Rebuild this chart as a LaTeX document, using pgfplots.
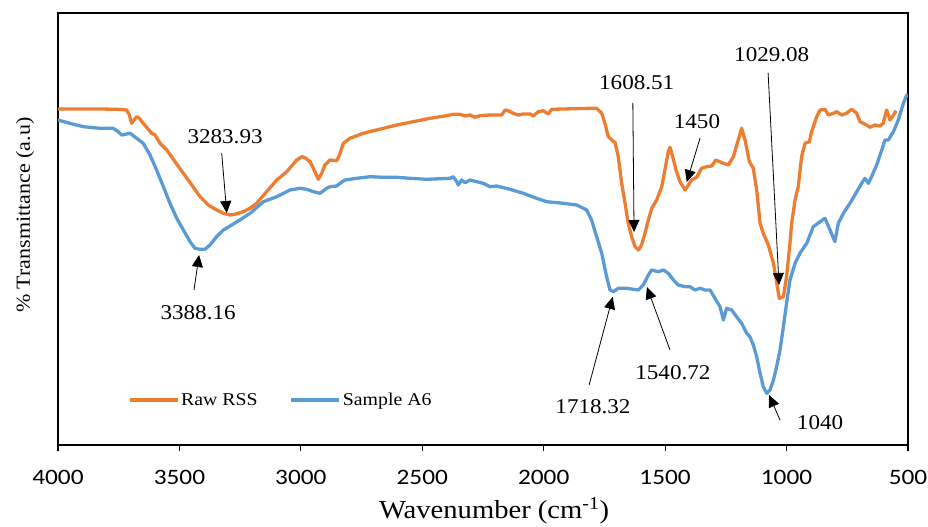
\documentclass[border=0pt]{standalone}
\usepackage{fontspec}
\setmainfont{Liberation Serif}[FakeStretch=1.1]
\newfontfamily\tickfont{Carlito}[FakeStretch=1.15]
\usepackage{pgfplots}
\pgfplotsset{compat=1.18}
\usetikzlibrary{arrows.meta}
\definecolor{rawrss}{HTML}{ED7D31}
\definecolor{samplea}{HTML}{5B9BD5}

% FTIR spectra (transmittance in arbitrary units, wavenumber in cm^-1)
\pgfplotstableread{
w y
4000 336
3896 336
3827 336
3758 335.7
3717 335
3706 330
3697 321.7
3687 325
3676 328.3
3665 326.7
3649 321.7
3628 315.7
3614 311.7
3600 310
3580 301.7
3552 295
3518 283.3
3484 271.7
3449 260
3415 248.3
3381 240
3347 235
3319 231.7
3292 230
3271 230.7
3237 233.3
3209 236.7
3182 241.7
3141 253.3
3099 265
3058 273.3
3017 285
2996 288.3
2983 287.3
2962 283.3
2942 273.3
2928 265.7
2914 271.7
2901 280
2880 285
2852 284.3
2841 290
2825 301.7
2798 306.7
2743 311.7
2660 316.7
2605 320
2537 323.3
2468 326.7
2400 329.3
2372 330.7
2345 330.7
2324 329
2303 330
2283 327.7
2262 329.3
2221 330
2173 330
2159 335
2146 334.3
2125 331.7
2104 330
2084 331
2056 331
2043 329
2022 333.3
2001 334.3
1981 331
1967 335.7
1919 336
1809 336.7
1782 336.7
1761 331.7
1748 321.7
1734 308.3
1720 305
1706 302.3
1693 288.3
1679 261.7
1665 241.7
1652 221.7
1638 208.3
1624 198.3
1610 195
1597 200
1583 211.7
1569 225
1555 236.7
1535 245
1514 258.3
1501 275
1487 293.3
1480 297.7
1469 288.3
1455 275
1439 263.3
1418 255
1404 260
1391 265
1370 267.7
1350 276.7
1329 278.3
1308 279
1291 285
1267 282.3
1240 280
1219 288.3
1199 305
1185 316.7
1171 305
1153 283.3
1137 276.7
1123 255
1109 221.7
1096 211.7
1075 200
1054 181.7
1038 158.3
1030 146.7
1013 148.3
1000 168.3
986 201.7
979 221.7
965 245
952 258.3
938 288.3
924 301.7
906 303.3
897 313.3
876 328.3
862 335
842 335.7
828 330
807 331.7
794 333.3
773 330
753 331.7
732 335.7
711 331.7
698 323.3
670 320
657 317.7
636 320
615 319
602 321.7
588 335
574 325
560 330
549 334.3
}\rawrss

\pgfplotstableread{
w y
4000 325
3951 321.7
3896 318.3
3827 316.7
3772 316.7
3752 313.3
3738 310
3703 311.7
3676 306.7
3649 301.7
3621 290
3594 275
3566 258.3
3539 241.7
3511 226.7
3484 215
3456 203.3
3436 196.7
3415 195.7
3395 195.7
3374 200
3347 208.3
3319 215
3285 220
3251 225
3209 231.7
3154 243.3
3099 248.3
3045 255
3003 256.7
2976 255.7
2949 253.3
2921 251.7
2894 256.7
2880 258.3
2852 259
2839 261.7
2818 265
2770 266.7
2715 268.3
2660 267.7
2605 267.7
2551 266.7
2482 265.7
2386 266.7
2372 268.3
2358 263.3
2352 260
2338 265
2324 262.3
2303 265
2276 263.3
2249 261.7
2221 258.3
2194 259
2139 255.7
2084 251.7
2029 246.7
1988 243.3
1919 241.7
1864 240
1823 235
1803 225
1782 208.3
1761 191.7
1741 168.3
1727 155
1713 153.3
1693 156.7
1658 156.7
1631 155.7
1610 155
1590 160
1569 170
1556 175
1528 173.3
1507 175
1487 171.7
1466 165
1446 160
1418 158.3
1398 158.3
1377 155
1356 156.7
1336 155
1315 155
1295 146.7
1274 138.3
1260 125
1247 136.7
1226 135
1206 128.3
1185 121.7
1164 111.7
1151 108.3
1137 100
1123 88.3
1109 71.7
1096 58.3
1082 51.7
1068 55
1054 65
1041 78.3
1027 95
1013 118.3
1000 141.7
986 165
965 181.7
945 191.7
917 201.7
890 218.3
862 223.3
842 226.7
821 215
801 203.3
787 221.7
766 231.7
739 241.7
711 253.3
691 261.7
677 266.7
663 261.7
650 268.3
629 280
608 295
595 305
581 305
560 313.3
540 325
519 341.7
505 350
500 348
}\sampleA

\newcommand\annfont{\fontsize{21bp}{24bp}\selectfont}

\begin{document}
\begin{tikzpicture}
\path[use as bounding box] (-58bp,-82bp) rectangle (870bp,445bp);
\begin{axis}[
  at={(0bp,0bp)}, anchor=south west,
  scale only axis, width=850bp, height=432bp,
  x dir=reverse,
  xmin=500, xmax=4000, ymin=0, ymax=432,
  xtick={500,1000,...,4000}, ytick=\empty,
  xtick pos=bottom,
  tick align=outside, major tick length=6bp,
  axis line style={line width=1.3bp},
  every tick/.style={black, line width=1.1bp},
  /pgf/number format/assume math mode=true,
  /pgf/number format/set thousands separator={},
  xticklabel style={font=\tickfont\fontsize{22bp}{24bp}\selectfont, yshift=-16bp},
  xlabel={Wavenumber (cm\textsuperscript{-1})},
  ylabel={\% Transmittance (a.u)},
  every axis x label/.style={at={(axis description cs:0.513,0)}, anchor=center, yshift=-66bp, font=\fontsize{26bp}{29bp}\selectfont},
  every axis y label/.style={at={(axis description cs:0,0.532)}, xshift=-33bp, rotate=90, anchor=center, font=\fontsize{20bp}{23bp}\selectfont},
  legend columns=2,
  legend style={at={(axis description cs:0.262,0.104)}, anchor=center, draw=none, fill=none,
    font=\fontsize{18bp}{21bp}\selectfont,
    /tikz/every even column/.style={column sep=30bp}},
  legend image code/.code={\draw[#1, line width=3.3bp] (0bp,0bp) -- (48bp,0bp);},
]
\addplot[rawrss, line width=3.3bp, line join=round] table[x=w, y=y] {\rawrss};
\addlegendentry{Raw RSS}
\addplot[samplea, line width=3.3bp, line join=round] table[x=w, y=y] {\sampleA};
\addlegendentry{Sample A6}

% peak annotations
\tikzset{peak/.style={-{Triangle[width=11bp,length=12bp]}, line width=0.8bp, black}}
\node[font=\annfont] at (axis cs:3312,308) {3283.93};
\draw[peak] (axis cs:3326,292) -- (axis cs:3305,232);
\node[font=\annfont] at (axis cs:3423,132) {3388.16};
\draw[peak] (axis cs:3440,155) -- (axis cs:3419,190);
\node[font=\annfont] at (axis cs:1617,362) {1608.51};
\draw[peak] (axis cs:1633,342) -- (axis cs:1628,213);
\node[font=\annfont] at (axis cs:1369,323) {1450};
\draw[peak] (axis cs:1356,307) -- (axis cs:1411,263);
\node[font=\annfont] at (axis cs:1061,390) {1029.08};
\draw[peak] (axis cs:1076,372) -- (axis cs:1031,160);
\node[font=\annfont] at (axis cs:1797,38) {1718.32};
\draw[peak] (axis cs:1813,60) -- (axis cs:1716,148);
\node[font=\annfont] at (axis cs:1468,72) {1540.72};
\draw[peak] (axis cs:1480,95) -- (axis cs:1575,158);
\node[font=\annfont] at (axis cs:862,22) {1040};
\draw[peak] (axis cs:1027,25) -- (axis cs:1072,50);
\end{axis}
\end{tikzpicture}
\end{document}
